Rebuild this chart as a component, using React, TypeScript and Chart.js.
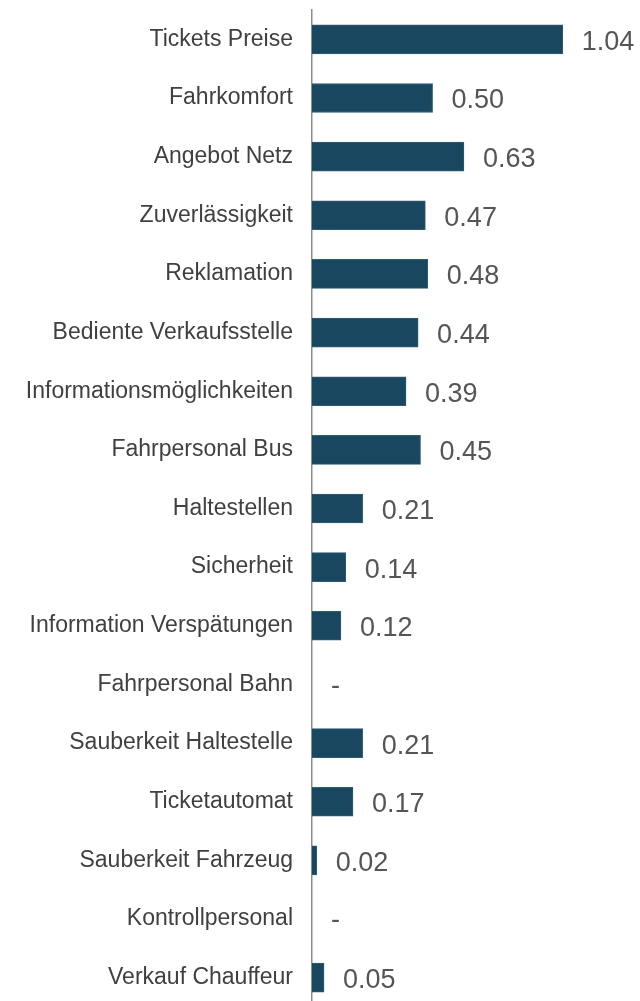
import React, { useEffect, useRef } from "react";
import { Chart, registerables } from "chart.js";

Chart.register(...registerables);

const categories: string[] = [
  "Tickets Preise",
  "Fahrkomfort",
  "Angebot Netz",
  "Zuverlässigkeit",
  "Reklamation",
  "Bediente Verkaufsstelle",
  "Informationsmöglichkeiten",
  "Fahrpersonal Bus",
  "Haltestellen",
  "Sicherheit",
  "Information Verspätungen",
  "Fahrpersonal Bahn",
  "Sauberkeit Haltestelle",
  "Ticketautomat",
  "Sauberkeit Fahrzeug",
  "Kontrollpersonal",
  "Verkauf Chauffeur",
];

const values: (number | null)[] = [
  1.04, 0.5, 0.63, 0.47, 0.48, 0.44, 0.39, 0.45, 0.21, 0.14, 0.12, null, 0.21, 0.17, 0.02, null, 0.05,
];

const xMin = 0;
const xMax = 1.36;
const missingLabel = "-";

const valueLabels = {
  id: "valueLabels",
  afterDatasetsDraw(chart: any) {
    const { ctx } = chart;
    const meta = chart.getDatasetMeta(0);
    const xScale = chart.scales.x;
    ctx.save();
    ctx.font = "27px 'Liberation Sans', Arial, sans-serif";
    ctx.fillStyle = "#555555";
    ctx.textAlign = "left";
    ctx.textBaseline = "middle";
    meta.data.forEach((el: any, i: number) => {
      const v = values[i];
      const y = el.y;
      if (v === null || v === undefined) {
        ctx.fillText(missingLabel, xScale.getPixelForValue(0) + 19, y + 2);
      } else {
        ctx.fillText(v.toFixed(2), xScale.getPixelForValue(v) + 19, y + 3);
      }
    });
    ctx.restore();
  },
};

export default function App() {
  const ref = useRef<HTMLCanvasElement | null>(null);
  useEffect(() => {
    if (!ref.current) return;
    const chart = new Chart(ref.current, {
      type: "bar",
      data: {
        labels: categories,
        datasets: [
          {
            data: values as any,
            backgroundColor: "#18475f",
            borderColor: "#2f5e76",
            borderWidth: 1,
            barThickness: 29,
          },
        ],
      },
      options: {
        indexAxis: "y",
        animation: false,
        responsive: false,
        devicePixelRatio: 1,
        layout: { padding: { top: 10, right: 0, bottom: 0, left: 0 } },
        plugins: { legend: { display: false }, tooltip: { enabled: false } },
        scales: {
          x: {
            display: false,
            min: xMin,
            max: xMax,
          },
          y: {
            grid: { display: false, drawTicks: false },
            border: { display: true, color: "#8c8c8c", width: 1.5 },
            ticks: {
              padding: 19,
              color: "#404040",
              font: { family: "'Liberation Sans', Arial, sans-serif", size: 23 },
            },
            afterFit(scale: any) {
              scale.width = 312;
              scale.paddingTop = 0;
              scale.paddingBottom = 0;
            },
          },
        },
      },
      plugins: [valueLabels],
    });
    return () => chart.destroy();
  }, []);
  return (
    <div style={{ position: "absolute", left: 0, top: 0, width: 640, height: 1007, background: "#fff" }}>
      <canvas ref={ref} width={640} height={1007} style={{ display: "block" }} />
    </div>
  );
}
